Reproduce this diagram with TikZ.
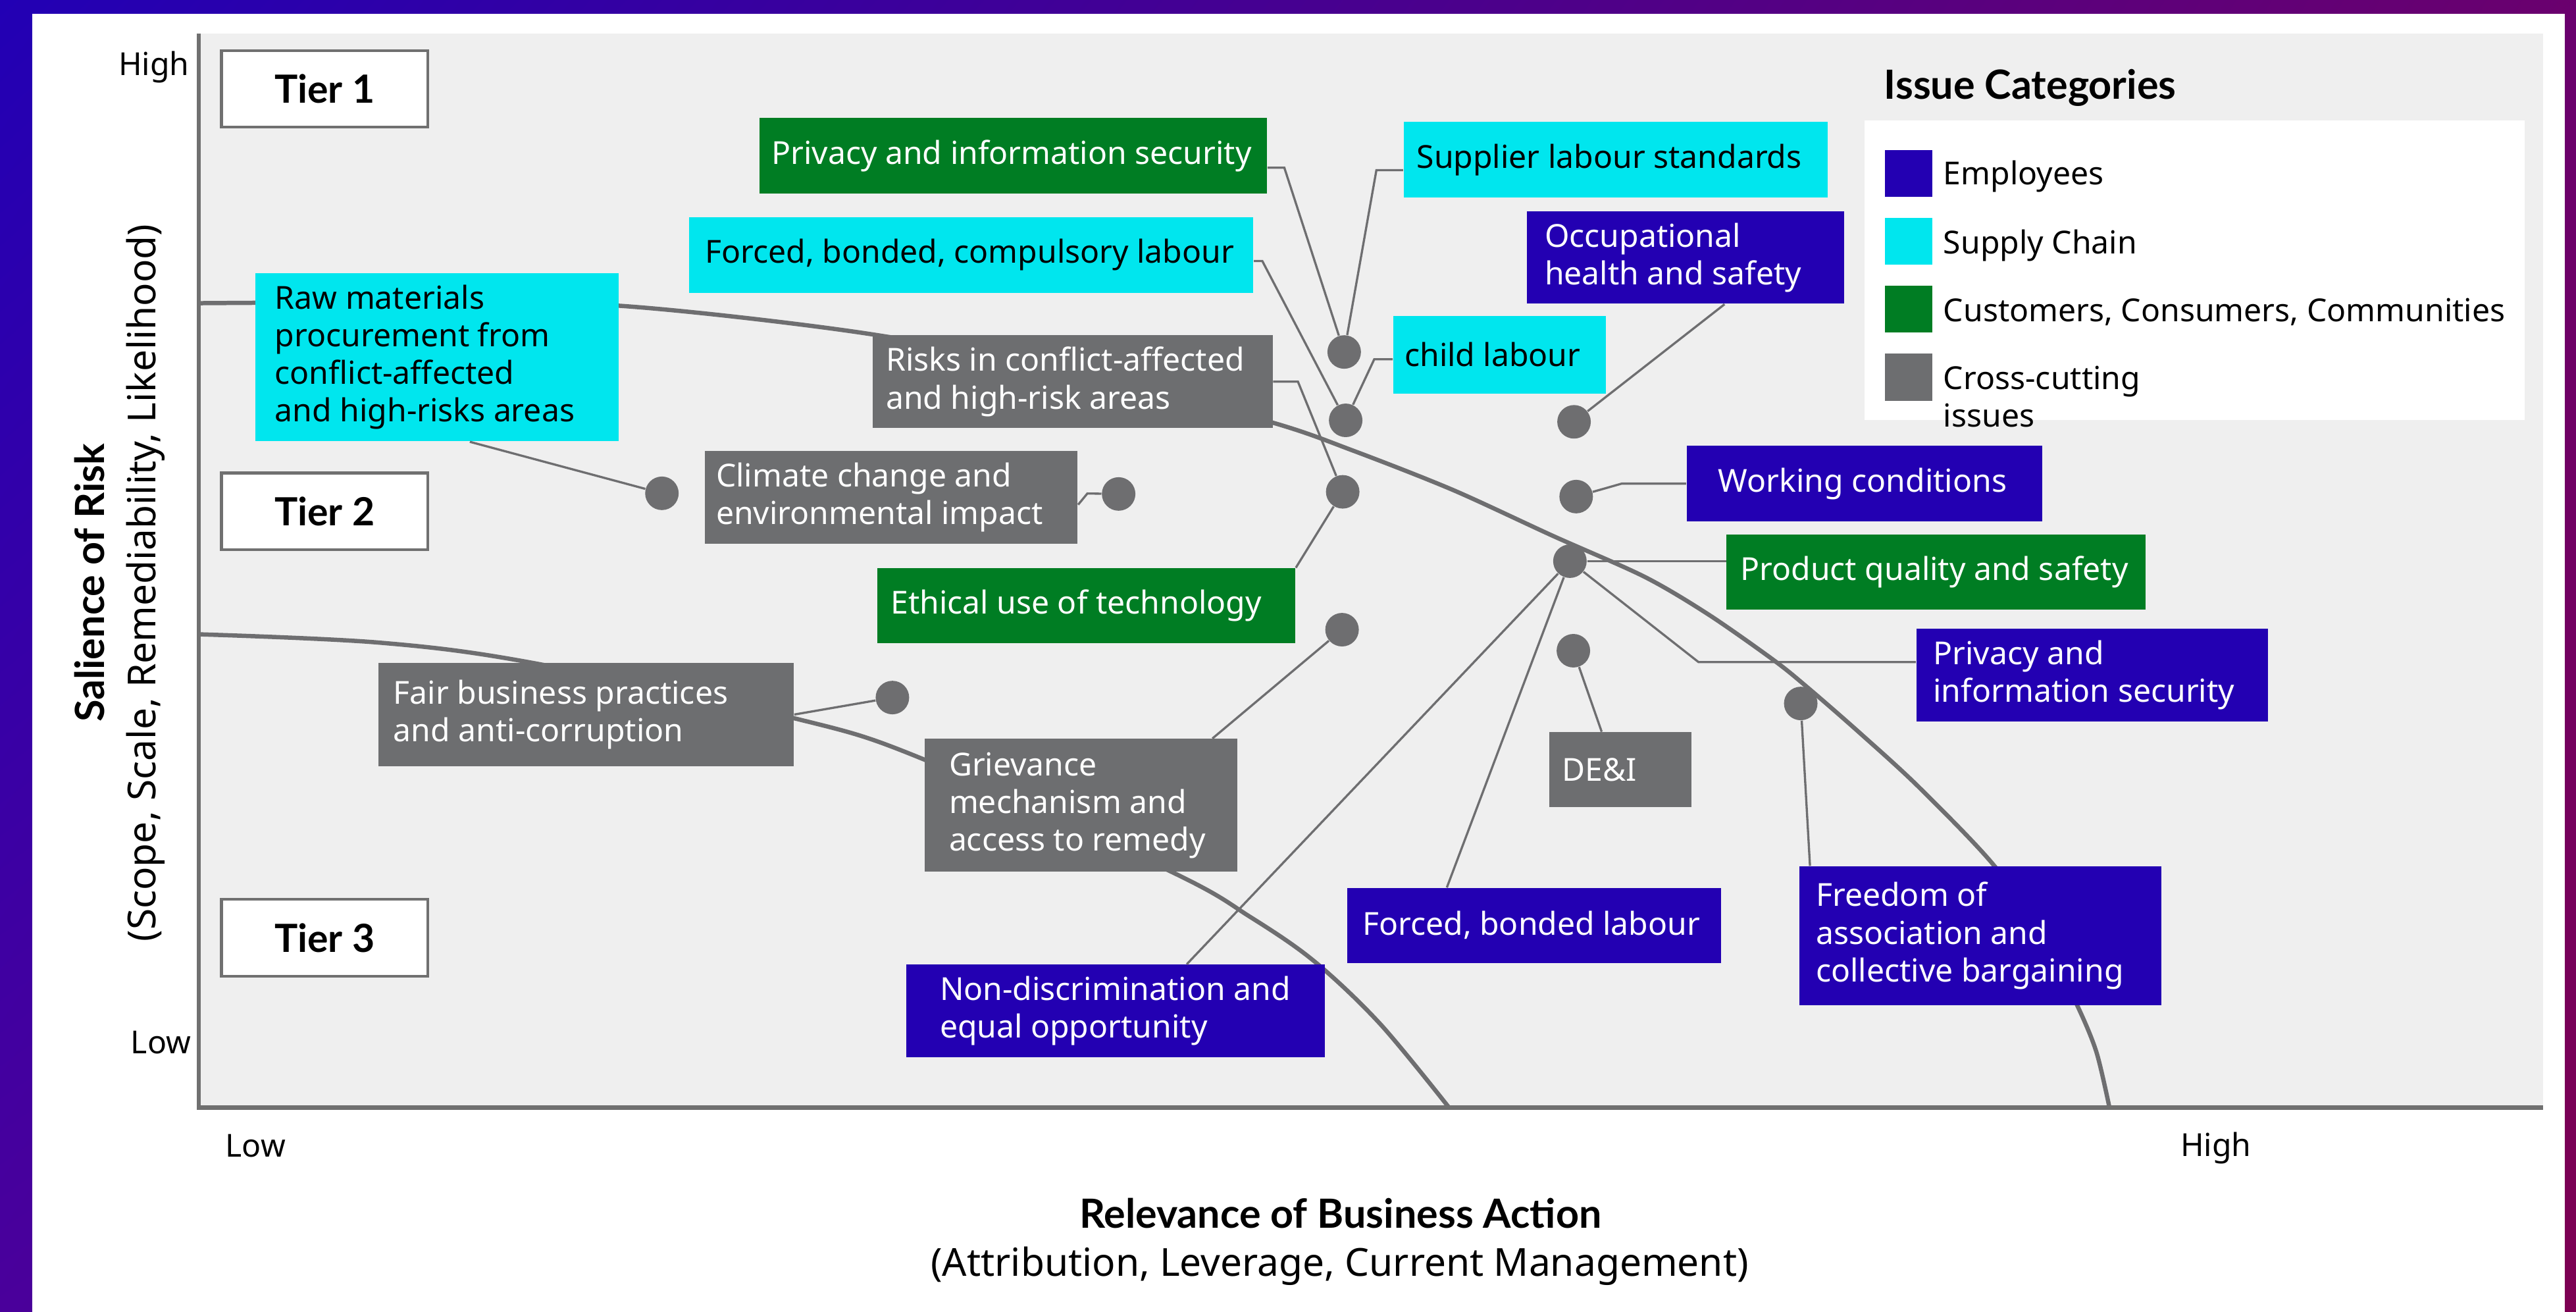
\documentclass[tikz,border=0pt]{standalone}
\usepackage{fontspec}
\setmainfont{Noto Sans}
\newfontfamily\latofont{Lato}
\usetikzlibrary{calc,shadings}
\definecolor{empblue}{RGB}{35,0,178}
\definecolor{supcyan}{RGB}{0,230,238}
\definecolor{custgreen}{RGB}{0,125,35}
\definecolor{crossgray}{RGB}{109,110,112}
\definecolor{plotbg}{RGB}{239,239,239}
\definecolor{linegray}{RGB}{110,110,112}
\definecolor{tiergray}{RGB}{112,112,112}
\definecolor{gUL}{RGB}{34,0,180}
\definecolor{gUR}{RGB}{106,0,110}
\definecolor{gLL}{RGB}{74,0,155}
\definecolor{gLR}{RGB}{125,0,82}
\newcommand\bodyfont{\fontsize{13.7}{16.3}\selectfont}
\newcommand\subfont{\fontsize{16.7}{19}\selectfont}
\newcommand\titfont{\latofont\bfseries\fontsize{17.4}{20}\selectfont}
\newcommand\tierfont{\latofont\bfseries\fontsize{16.8}{20}\selectfont}
\newcommand\issuebox[8]{%
  \node[#2, anchor=north west, minimum width=#5*0.025cm, minimum height=#6*0.025cm] (#1) at (#3,#4) {};
  \node[#2txt, anchor=west] (#1t) at ([xshift=#7*0.025cm]#1.west) {#8};}
\begin{document}
\begin{tikzpicture}[x=0.025cm,y=-0.025cm,
  emp/.style={fill=empblue, inner sep=0pt},
  sup/.style={fill=supcyan, inner sep=0pt},
  cust/.style={fill=custgreen, inner sep=0pt},
  cross/.style={fill=crossgray, inner sep=0pt},
  emptxt/.style={text=white, font=\bodyfont, align=left, inner sep=0pt},
  suptxt/.style={text=black, font=\bodyfont, align=left, inner sep=0pt},
  custtxt/.style={text=white, font=\bodyfont, align=left, inner sep=0pt},
  crosstxt/.style={text=white, font=\bodyfont, align=left, inner sep=0pt},
  tierbox/.style={draw=tiergray, line width=1.2pt, fill=white, font=\tierfont, inner sep=0pt, anchor=north west, minimum width=125.6*0.025cm, minimum height=46.7*0.025cm},
  dot/.style={circle, fill=linegray, inner sep=0pt, minimum size=0.51cm},
  conn/.style={draw=linegray, line width=0.95pt},
  curve/.style={draw=linegray, line width=1.85pt},
  axisline/.style={draw=tiergray, line width=1.9pt},
  legsq/.style={inner sep=0pt, anchor=north west, minimum width=29*0.025cm, minimum height=28.6*0.025cm},
  legtxt/.style={font=\bodyfont, anchor=base west, inner sep=0pt, align=left},
  lbl/.style={font=\bodyfont, inner sep=0pt}
]
\useasboundingbox (0,0) rectangle (1568,798.4);
% frame
\shade[upper left=gUL, upper right=gUR, lower left=gLL, lower right=gLR] (0,0) rectangle (1568,798.4);
\fill[white] (19.6,8.4) rectangle (1561,800);
% plot area
\fill[plotbg] (121,20.5) rectangle (1548,674);
% tier curves
\draw[curve] plot[smooth, tension=0.5] coordinates {(121,184.5) (250,184) (376,186) (521,202) (660,227) (774,257) (823,274) (884,298) (945,326) (1001,351) (1040,374) (1080,402) (1101,419) (1132,446) (1168,479) (1214,527) (1244,572) (1264,611) (1276,640) (1284,674)};
\draw[curve] plot[smooth, tension=0.55] coordinates {(121,386) (230,391) (322,403) (483,437) (562,462) (714,531) (761,558) (800,585) (840,623) (882,674)};
% axes
\draw[axisline] (121,20.5) -- (121,674) -- (1548,674);
% axis labels
\node[lbl, anchor=base east] (yhigh) at (115.5,46) {High};
\node[lbl, anchor=base east] (ylow) at (116.5,641.2) {Low};
\node[lbl, anchor=base west] (xlow) at (137,704) {Low};
\node[lbl, anchor=base west] (xhigh) at (1327,703.5) {High};
\node[font=\titfont, anchor=base, inner sep=0pt] (xtitle) at (816,747.4) {Relevance of Business Action};
\node[font=\subfont, anchor=base, inner sep=0pt] (xsub) at (815.5,776.7) {(Attribution, Leverage, Current Management)};
\node[font=\titfont, anchor=base, rotate=90, inner sep=0pt] (ytitle) at (63.4,354.7) {Salience of Risk};
\node[font=\subfont, anchor=base, rotate=90, inner sep=0pt] (ysub) at (94.8,354.8) {(Scope, Scale, Remediability, Likelihood)};
% tiers
\node[tierbox] (tier1) at (134,29.9) {Tier 1};
\node[tierbox] (tier2) at (134,287) {Tier 2};
\node[tierbox] (tier3) at (134,546.5) {Tier 3};
% legend
\node[font=\titfont, anchor=base west, inner sep=0pt] (legtitle) at (1146.6,60.3) {Issue Categories};
\node[fill=white, inner sep=0pt, anchor=north west, minimum width=401.9*0.025cm, minimum height=182.5*0.025cm] (legbox) at (1134.6,73) {};
\node[legsq, fill=empblue] (sqemp) at (1147,91) {};
\node[legsq, fill=supcyan] (sqsup) at (1147,132.3) {};
\node[legsq, fill=custgreen] (sqcust) at (1147,173.6) {};
\node[legsq, fill=crossgray] (sqcross) at (1147,215) {};
\node[legtxt] (lemp) at (1182.7,112.4) {Employees};
\node[legtxt] (lsup) at (1182.7,154.6) {Supply Chain};
\node[legtxt] (lcust) at (1182.7,195.5) {Customers, Consumers, Communities};
\node[legtxt, text width=4cm] (lcross) at (1182.7,236.9) {Cross-cutting\\issues};
% issue boxes
\issuebox{privG}{cust}{462}{71.6}{309}{46}{7.4}{Privacy and information security}
\issuebox{forcedC}{sup}{419}{132}{343.6}{45.8}{10}{Forced, bonded, compulsory labour}
\issuebox{risks}{cross}{531}{203.8}{243.4}{56.4}{8}{Risks in conflict-affected\\and high-risk areas}
\issuebox{climate}{cross}{428.9}{274.2}{226.8}{56.5}{6.7}{Climate change and\\environmental impact}
\issuebox{ethical}{cust}{533.6}{345.5}{254.6}{45.7}{8.3}{Ethical use of technology}
\issuebox{supplier}{sup}{854.1}{73.9}{258}{46}{8}{Supplier labour standards}
\issuebox{child}{sup}{847.7}{191.9}{129.5}{47.3}{7}{child labour}
\issuebox{occup}{emp}{929}{128.4}{193.2}{56.2}{11}{Occupational\\health and safety}
\issuebox{working}{emp}{1026.3}{271}{216.7}{46}{19.4}{Working conditions}
\issuebox{product}{cust}{1050.7}{325}{254.9}{45.5}{8.4}{Product quality and safety}
\issuebox{privB}{emp}{1166.1}{382.5}{214.1}{56.2}{10.4}{Privacy and\\information security}
\issuebox{dei}{cross}{942.8}{445.3}{86.5}{45.6}{7.8}{DE\&I}
\issuebox{forcedB}{emp}{819.8}{540.1}{227.5}{45.6}{9.3}{Forced, bonded labour}
\issuebox{freedom}{emp}{1095.1}{526.9}{220.2}{84.6}{10}{Freedom of\\association and\\collective bargaining}
\issuebox{nondisc}{emp}{551.4}{586.8}{254.6}{56.3}{20.4}{Non-discrimination and\\equal opportunity}
\issuebox{griev}{cross}{562.6}{449.4}{190.1}{80.9}{14.8}{Grievance\\mechanism and\\access to remedy}
\issuebox{fair}{cross}{230}{403}{252.9}{63.1}{9.2}{Fair business practices\\and anti-corruption}
\issuebox{raw}{sup}{155.1}{165.8}{221.3}{102.5}{12}{Raw materials\\procurement from\\conflict-affected\\and high-risks areas}
% dots
\node[dot] (d1) at (818.2,214.2) {};
\node[dot] (d2) at (819.1,255.8) {};
\node[dot] (d3) at (817.3,299.3) {};
\node[dot] (d4) at (680.9,300.6) {};
\node[dot] (d5) at (402.9,300.2) {};
\node[dot] (d6) at (958.1,256.7) {};
\node[dot] (d7) at (959.4,302.2) {};
\node[dot] (d8) at (955.6,341.5) {};
\node[dot] (d9) at (816.9,383.2) {};
\node[dot] (d10) at (957.7,396) {};
\node[dot] (d11) at (1096.1,428.1) {};
\node[dot] (d12) at (543.2,424.5) {};
% connectors
\draw[conn] ($(privG.north east)!0.654!(privG.south east)$) -- ++(10.2,0) -- (d1);
\draw[conn] ($(supplier.north west)!0.637!(supplier.south west)$) -- ++(-16.3,0) -- (d1);
\draw[conn] ($(forcedC.north east)!0.579!(forcedC.south east)$) -- ++(5.2,0) -- (d2);
\draw[conn] ($(child.north west)!0.558!(child.south west)$) -- ++(-11.2,0) -- (d2);
\draw[conn] (risks.east) -- ++(15.1,0) -- (d3);
\draw[conn] (ethical.north east) -- (d3);
\draw[conn] ($(climate.north east)!0.577!(climate.south east)$) -- ++(5.6,-6.8) -- (d4);
\draw[conn] ($(raw.south west)!0.59!(raw.south east)$) -- (d5);
\draw[conn] ($(occup.south west)!0.623!(occup.south east)$) -- (d6);
\draw[conn] (working.west) -- ++(-39.1,0) -- (d7);
\draw[conn] (d8) -- (d8 -| product.west);
\draw[conn] ($(privB.north west)!0.36!(privB.south west)$) -- ++(-132.2,0) -- (d8);
\draw[conn] ($(forcedB.north west)!0.267!(forcedB.north east)$) -- (d8);
\draw[conn] ($(nondisc.north west)!0.67!(nondisc.north east)$) -- (d8);
\draw[conn] ($(griev.north west)!0.92!(griev.north east)$) -- (d9);
\draw[conn] ($(dei.north west)!0.369!(dei.north east)$) -- (d10);
\draw[conn] ($(freedom.north west)!0.03!(freedom.north east)$) -- (d11);
\draw[conn] (fair.east) -- (d12);
\end{tikzpicture}
\end{document}
